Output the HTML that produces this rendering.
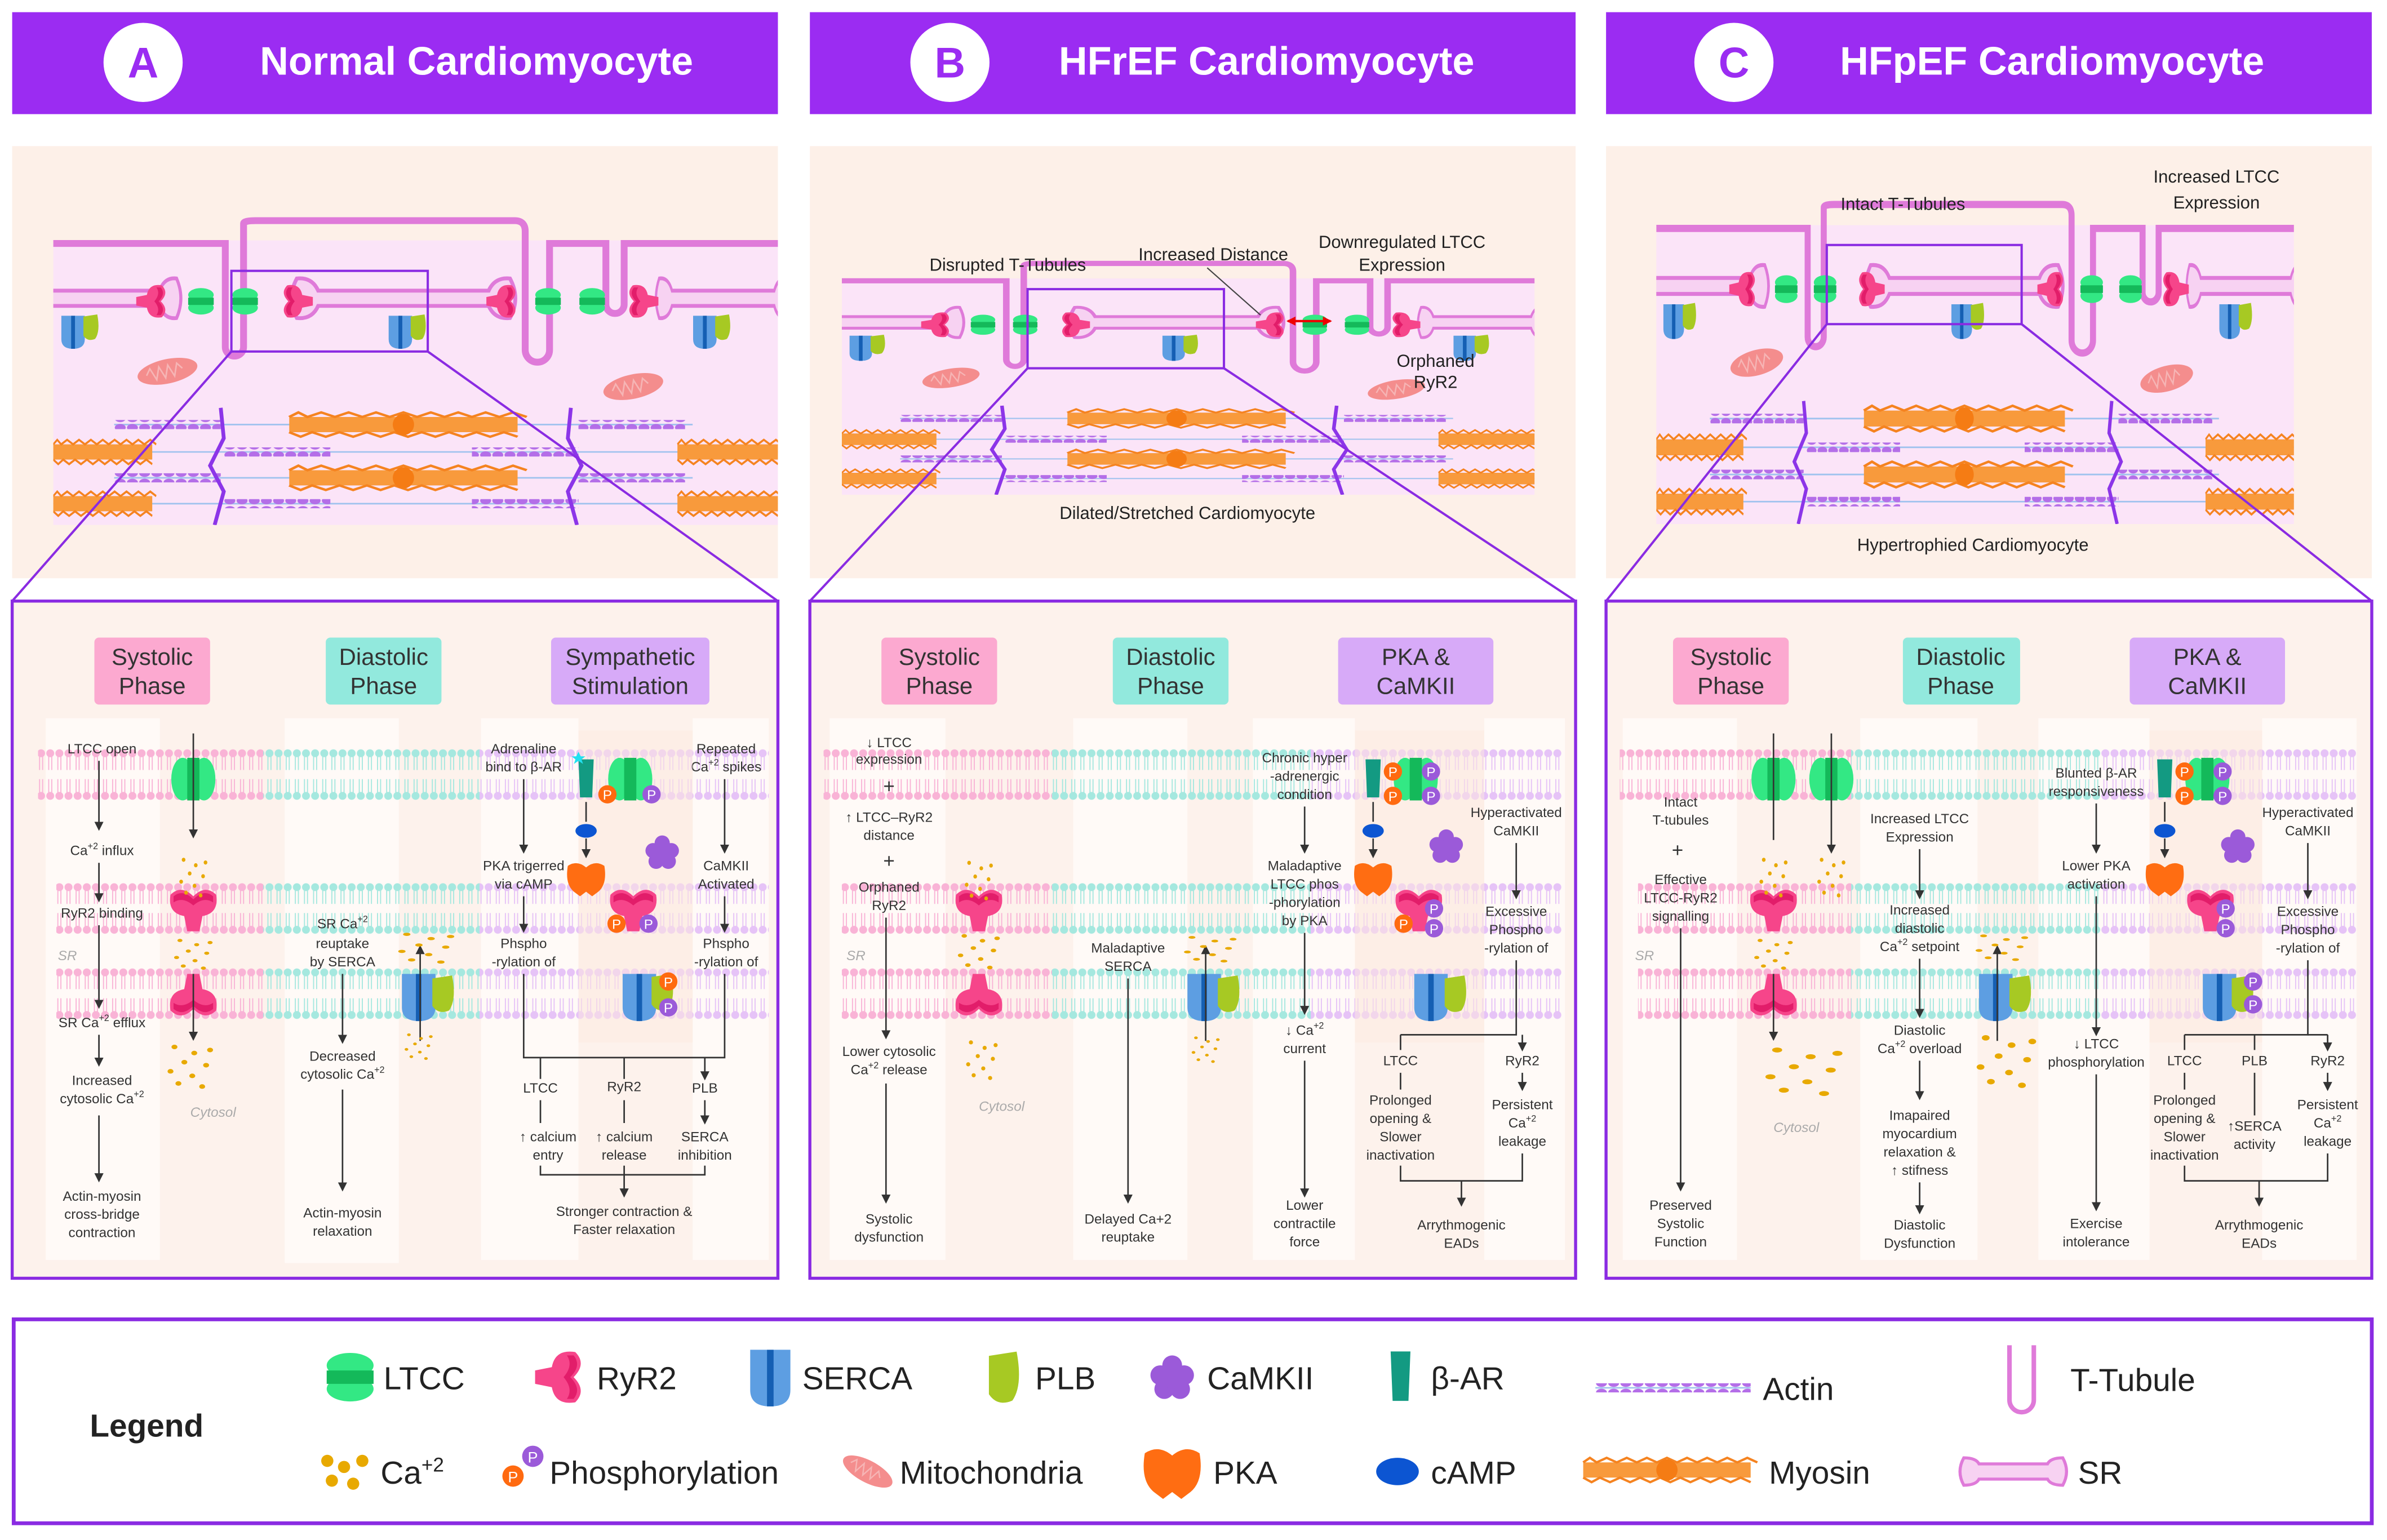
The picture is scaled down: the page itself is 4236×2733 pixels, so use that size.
<!DOCTYPE html>
<html><head><meta charset="utf-8"><style>
html,body{margin:0;padding:0;background:#fff}
svg{display:block}
text{font-family:"Liberation Sans",sans-serif;fill:#333}
.t{font-size:9px;text-anchor:middle}
.h{font-size:26px;font-weight:bold;fill:#fff;text-anchor:middle}
.lb{font-size:15.5px;text-anchor:middle;fill:#333}
.an{font-size:11.5px;text-anchor:middle;fill:#222}
.lg{font-size:21px;fill:#222}
.gi{font-size:9px;font-style:italic;fill:#aaa}
.ar{stroke:#333;stroke-width:1;fill:none;marker-end:url(#ah)}
.ln{stroke:#333;stroke-width:1;fill:none}
</style></head><body>
<svg width="4236" height="2733" viewBox="0 0 1568 1012" preserveAspectRatio="none" xmlns="http://www.w3.org/2000/svg">
<defs>
<clipPath id="cc"><rect x="0" y="-25" width="476" height="212"/></clipPath>
<marker id="ah" markerWidth="6" markerHeight="6" refX="5" refY="3" orient="auto" markerUnits="userSpaceOnUse"><path d="M0,0 L6,3 L0,6Z" fill="#333"/></marker>
<marker id="rh" markerWidth="6" markerHeight="6" refX="5" refY="3" orient="auto-start-reverse" markerUnits="userSpaceOnUse"><path d="M0,0 L6,3 L0,6Z" fill="#e00"/></marker>
<pattern id="mpk" width="6" height="34" patternUnits="userSpaceOnUse"><circle cx="3" cy="3" r="2.6" fill="#f9b3d6"/><path d="M2,5V14M4,5V14M2,20V29M4,20V29" stroke="#f9b3d6" stroke-width=".7"/><circle cx="3" cy="31" r="2.6" fill="#f9b3d6"/></pattern>
<pattern id="mtl" width="6" height="34" patternUnits="userSpaceOnUse"><circle cx="3" cy="3" r="2.6" fill="#a5e8df"/><path d="M2,5V14M4,5V14M2,20V29M4,20V29" stroke="#a5e8df" stroke-width=".7"/><circle cx="3" cy="31" r="2.6" fill="#a5e8df"/></pattern>
<pattern id="mli" width="6" height="34" patternUnits="userSpaceOnUse"><circle cx="3" cy="3" r="2.6" fill="#e6c3f7"/><path d="M2,5V14M4,5V14M2,20V29M4,20V29" stroke="#e6c3f7" stroke-width=".7"/><circle cx="3" cy="31" r="2.6" fill="#e6c3f7"/></pattern>
<pattern id="act" width="8" height="6" patternUnits="userSpaceOnUse"><ellipse cx="4" cy="3" rx="3.6" ry="2.4" fill="#b46ee8"/></pattern>
<g id="ltcc"><ellipse cx="-7" cy="0" rx="7.5" ry="14" fill="#33e884"/><ellipse cx="7" cy="0" rx="7.5" ry="14" fill="#33e884"/><rect x="-4" y="-14" width="8" height="28" fill="#14b95a"/></g>
<g id="ryr"><path d="M-15,-9 Q-8,-16 0,-8 Q8,-16 15,-9 Q17,3 6,5 L4,15 L-4,15 L-6,5 Q-17,3 -15,-9Z" fill="#f6458a"/><path d="M-13,-8 Q-7,-13 0,-6 Q7,-13 13,-8 L13,-4 Q7,-8 0,-2 Q-7,-8 -13,-4Z" fill="#e21d6a"/></g>
<g id="serca"><path d="M-11,-15 H11 V7 Q11,16 0,16 Q-11,16 -11,7Z" fill="#5d9ee2"/><rect x="-1.8" y="-15" width="3.6" height="31" fill="#155fb3"/></g>
<g id="plb"><path d="M-6,-10 L7,-12 Q10,4 5,11 Q-2,14 -6,8Z" fill="#a7c923"/></g>
<g id="cam" fill="#9b5ad9"><circle cx="0" cy="-6" r="5"/><circle cx="6" cy="-1" r="5"/><circle cx="4" cy="6" r="5"/><circle cx="-4" cy="6" r="5"/><circle cx="-6" cy="-1" r="5"/><circle cx="0" cy="1" r="5"/></g>
<g id="pka"><path d="M-12,-8 Q-6,-12 0,-7 Q6,-12 12,-8 Q14,4 8,9 L4,12 L0,9 L-4,12 L-8,9 Q-14,4 -12,-8Z" fill="#ff6d12"/></g>
<g id="bar"><path d="M-5,-13 H5 L4,12 H-4Z" fill="#139a82"/></g>
<g id="camp"><ellipse cx="0" cy="0" rx="7" ry="4.5" fill="#0c55d2"/></g>
<g id="mito"><ellipse cx="0" cy="0" rx="20" ry="8" fill="#f48d8d" transform="rotate(-12)"/><path d="M-14,0 l3,-4 3,8 3,-8 3,8 3,-8 3,8 3,-8 3,4" stroke="#f6b5b5" stroke-width="1" fill="none" transform="rotate(-12)"/></g>
<g id="dots" fill="#e8a900"><circle cx="-8" cy="0" r="1.5"/><circle cx="2" cy="4" r="1.5"/><circle cx="-3" cy="10" r="1.5"/><circle cx="8" cy="12" r="1.5"/><circle cx="-10" cy="16" r="1.5"/><circle cx="1" cy="19" r="1.5"/><circle cx="10" cy="2" r="1.5"/><circle cx="-6" cy="24" r="1.5"/><circle cx="6" cy="26" r="1.5"/></g>
<g id="myo"><rect x="0" y="-5" width="100" height="10" fill="#f89a3c"/><path d="M0,-5 l4,-3 4,3 6,-3 6,3 6,-3 6,3 6,-3 6,3 6,-3 6,3 6,-3 6,3 6,-3 6,3 6,-3 6,3 6,-3 6,3 M0,5 l5,3 5,-3 6,3 6,-3 6,3 6,-3 6,3 6,-3 6,3 6,-3 6,3 6,-3 6,3 6,-3 6,3 6,-3 6,3" stroke="#f58320" stroke-width="1.5" fill="none"/></g>
<g id="sr"><path d="M-70,-13 Q-60,-14 -56,-5 H56 Q60,-14 70,-13 Q77,0 70,13 Q60,14 56,5 H-56 Q-60,14 -70,13 Q-77,0 -70,-13Z" fill="#f7d2f2" stroke="#df7ad9" stroke-width="2.5"/></g>
<g id="cell"><g clip-path="url(#cc)">
<rect x="0" y="0" width="476" height="187" fill="#fbe4f8"/>
<path d="M0,2 H113 V70 a6,6 0 0 0 12,0 V-11 Q125,-13 133,-13 H303 Q310,-13 310,-6 V72 a8,8 0 0 0 16,0 V2 H363 V42 a6,6 0 0 0 12,0 V2 H476" stroke="#df7ad9" stroke-width="4.5" fill="none"/>
<use href="#sr" transform="translate(25,38) scale(.8,1)"/>
<use href="#sr" transform="translate(230,38)"/>
<use href="#sr" transform="translate(440,38) scale(.6,1)"/>
<use href="#ryr" transform="translate(65,40) rotate(90) scale(.7)"/>
<use href="#ryr" transform="translate(160,40) rotate(-90) scale(.7)"/>
<use href="#ryr" transform="translate(295,40) rotate(90) scale(.7)"/>
<use href="#ryr" transform="translate(387,40) rotate(-90) scale(.7)"/>
<use href="#ltcc" transform="translate(97,40) rotate(90) scale(.6)"/>
<use href="#ltcc" transform="translate(126,40) rotate(90) scale(.6)"/>
<use href="#ltcc" transform="translate(325,40) rotate(90) scale(.6)"/>
<use href="#ltcc" transform="translate(354,40) rotate(90) scale(.6)"/>
<use href="#serca" transform="translate(13,60) scale(.7)"/><use href="#plb" transform="translate(24,57) scale(.7)"/>
<use href="#serca" transform="translate(228,60) scale(.7)"/><use href="#plb" transform="translate(239,57) scale(.7)"/>
<use href="#serca" transform="translate(428,60) scale(.7)"/><use href="#plb" transform="translate(439,57) scale(.7)"/>
<use href="#mito" transform="translate(75,86)"/><use href="#mito" transform="translate(381,96)"/>
<g stroke="#9fc2ee" stroke-width="1"><path d="M40,121H420M0,139H476M40,156H420M0,173H476"/></g>
<rect x="40" y="118" width="70" height="6" fill="url(#act)"/><rect x="345" y="118" width="70" height="6" fill="url(#act)"/>
<rect x="112" y="136" width="70" height="6" fill="url(#act)"/><rect x="275" y="136" width="70" height="6" fill="url(#act)"/>
<rect x="40" y="153" width="70" height="6" fill="url(#act)"/><rect x="345" y="153" width="70" height="6" fill="url(#act)"/>
<rect x="112" y="170" width="70" height="6" fill="url(#act)"/><rect x="275" y="170" width="70" height="6" fill="url(#act)"/>
<use href="#myo" transform="translate(155,121) scale(1.5,1)"/><circle cx="230" cy="121" r="7" fill="#f57c14"/>
<use href="#myo" transform="translate(155,156) scale(1.5,1)"/><circle cx="230" cy="156" r="7" fill="#f57c14"/>
<use href="#myo" transform="translate(0,139) scale(.65,1)"/><use href="#myo" transform="translate(410,139) scale(.66,1)"/>
<use href="#myo" transform="translate(0,173) scale(.65,1)"/><use href="#myo" transform="translate(410,173) scale(.66,1)"/>
<path d="M110,110 L112,130 L103,148 L112,165 L106,187 M340,110 L338,130 L347,148 L338,165 L344,187" stroke="#8c35e8" stroke-width="2.5" fill="none"/>
</g></g>
</defs>

<!-- headers -->
<rect x="8" y="8" width="503" height="67" fill="#9b2cf2"/>
<rect x="532" y="8" width="503" height="67" fill="#9b2cf2"/>
<rect x="1055" y="8" width="503" height="67" fill="#9b2cf2"/>
<circle cx="94" cy="41" r="26" fill="#fff"/><text x="94" y="51" style="font-size:28px;font-weight:bold;fill:#9b2cf2;text-anchor:middle">A</text>
<circle cx="624" cy="41" r="26" fill="#fff"/><text x="624" y="51" style="font-size:28px;font-weight:bold;fill:#9b2cf2;text-anchor:middle">B</text>
<circle cx="1139" cy="41" r="26" fill="#fff"/><text x="1139" y="51" style="font-size:28px;font-weight:bold;fill:#9b2cf2;text-anchor:middle">C</text>
<text class="h" x="313" y="49">Normal Cardiomyocyte</text>
<text class="h" x="832" y="49">HFrEF Cardiomyocyte</text>
<text class="h" x="1348" y="49">HFpEF Cardiomyocyte</text>

<!-- top panels -->
<rect x="8" y="96" width="503" height="284" fill="#fdf0e8"/>
<rect x="532" y="96" width="503" height="284" fill="#fdf0e8"/>
<rect x="1055" y="96" width="503" height="284" fill="#fdf0e8"/>
<use href="#cell" transform="translate(35,158)"/>
<use href="#cell" transform="translate(553,183) scale(.956,.76)"/>
<use href="#cell" transform="translate(1088,148) scale(.88,1.05)"/>

<rect x="152" y="178" width="129" height="53" fill="none" stroke="#8a2be2" stroke-width="1.5"/>
<rect x="675" y="190" width="129" height="52" fill="none" stroke="#8a2be2" stroke-width="1.5"/>
<rect x="1200" y="161" width="128" height="52" fill="none" stroke="#8a2be2" stroke-width="1.5"/>
<path d="M152,231L8,395M281,231L511,395M675,242L532,395M804,242L1035,395M1200,213L1055,395M1328,213L1558,395" stroke="#8a2be2" stroke-width="1.5"/>

<text class="an" x="662" y="178">Disrupted T-Tubules</text>
<text class="an" x="797" y="171">Increased Distance</text>
<path d="M793,176L828,207" stroke="#444" stroke-width=".8"/>
<path d="M846,211H874" stroke="#e00" stroke-width="1.5" marker-end="url(#rh)" marker-start="url(#rh)"/>
<text class="an" x="921" y="163">Downregulated LTCC</text>
<text class="an" x="921" y="178">Expression</text>
<text class="an" x="943" y="241">Orphaned</text>
<text class="an" x="943" y="255">RyR2</text>
<text class="an" x="780" y="341">Dilated/Stretched Cardiomyocyte</text>
<text class="an" x="1250" y="138">Intact T-Tubules</text>
<text class="an" x="1456" y="120">Increased LTCC</text>
<text class="an" x="1456" y="137">Expression</text>
<text class="an" x="1296" y="362">Hypertrophied Cardiomyocyte</text>

<!-- bottom boxes -->
<rect x="8" y="395" width="503" height="445" fill="#fdf2ec" stroke="#8a2be2" stroke-width="2"/>
<rect x="532" y="395" width="503" height="445" fill="#fdf2ec" stroke="#8a2be2" stroke-width="2"/>
<rect x="1055" y="395" width="503" height="445" fill="#fdf2ec" stroke="#8a2be2" stroke-width="2"/>
<g fill="#fffaf7">
<rect x="30" y="472" width="75" height="356"/><rect x="187" y="472" width="75" height="358"/><rect x="316" y="472" width="64" height="356"/><rect x="455" y="472" width="50" height="356"/>
<rect x="545" y="472" width="76" height="356"/><rect x="705" y="472" width="75" height="356"/><rect x="823" y="472" width="67" height="356"/><rect x="975" y="472" width="53" height="356"/>
<rect x="1066" y="472" width="75" height="356"/><rect x="1222" y="472" width="77" height="356"/><rect x="1339" y="472" width="73" height="356"/><rect x="1486" y="472" width="62" height="356"/>
</g>
<!-- membranes -->
<g transform="translate(0,492)"><rect x="25" width="148" height="34" fill="url(#mpk)"/><rect x="173" width="142" height="34" fill="url(#mtl)"/><rect x="315" width="190" height="34" fill="url(#mli)"/>
<rect x="541" width="150" height="34" fill="url(#mpk)"/><rect x="691" width="170" height="34" fill="url(#mtl)"/><rect x="861" width="165" height="34" fill="url(#mli)"/>
<rect x="1064" width="152" height="34" fill="url(#mpk)"/><rect x="1216" width="164" height="34" fill="url(#mtl)"/><rect x="1380" width="168" height="34" fill="url(#mli)"/></g>
<g transform="translate(0,580)"><rect x="37" width="136" height="34" fill="url(#mpk)"/><rect x="173" width="142" height="34" fill="url(#mtl)"/><rect x="315" width="190" height="34" fill="url(#mli)"/>
<rect x="553" width="138" height="34" fill="url(#mpk)"/><rect x="691" width="170" height="34" fill="url(#mtl)"/><rect x="861" width="165" height="34" fill="url(#mli)"/>
<rect x="1076" width="140" height="34" fill="url(#mpk)"/><rect x="1216" width="164" height="34" fill="url(#mtl)"/><rect x="1380" width="168" height="34" fill="url(#mli)"/></g>
<g transform="translate(0,636)"><rect x="37" width="136" height="34" fill="url(#mpk)"/><rect x="173" width="142" height="34" fill="url(#mtl)"/><rect x="315" width="190" height="34" fill="url(#mli)"/>
<rect x="553" width="138" height="34" fill="url(#mpk)"/><rect x="691" width="170" height="34" fill="url(#mtl)"/><rect x="861" width="165" height="34" fill="url(#mli)"/>
<rect x="1076" width="140" height="34" fill="url(#mpk)"/><rect x="1216" width="164" height="34" fill="url(#mtl)"/><rect x="1380" width="168" height="34" fill="url(#mli)"/></g>

<!-- phase labels -->
<rect x="62" y="419" width="76" height="44" rx="3" fill="#fca9d0"/><text class="lb" x="100" y="437">Systolic</text><text class="lb" x="100" y="456">Phase</text>
<rect x="214" y="419" width="76" height="44" rx="3" fill="#92e9dd"/><text class="lb" x="252" y="437">Diastolic</text><text class="lb" x="252" y="456">Phase</text>
<rect x="362" y="419" width="104" height="44" rx="3" fill="#d7aaf8"/><text class="lb" x="414" y="437">Sympathetic</text><text class="lb" x="414" y="456">Stimulation</text>
<rect x="579" y="419" width="76" height="44" rx="3" fill="#fca9d0"/><text class="lb" x="617" y="437">Systolic</text><text class="lb" x="617" y="456">Phase</text>
<rect x="731" y="419" width="76" height="44" rx="3" fill="#92e9dd"/><text class="lb" x="769" y="437">Diastolic</text><text class="lb" x="769" y="456">Phase</text>
<rect x="879" y="419" width="102" height="44" rx="3" fill="#d7aaf8"/><text class="lb" x="930" y="437">PKA &amp;</text><text class="lb" x="930" y="456">CaMKII</text>
<rect x="1099" y="419" width="76" height="44" rx="3" fill="#fca9d0"/><text class="lb" x="1137" y="437">Systolic</text><text class="lb" x="1137" y="456">Phase</text>
<rect x="1250" y="419" width="77" height="44" rx="3" fill="#92e9dd"/><text class="lb" x="1288" y="437">Diastolic</text><text class="lb" x="1288" y="456">Phase</text>
<rect x="1399" y="419" width="102" height="44" rx="3" fill="#d7aaf8"/><text class="lb" x="1450" y="437">PKA &amp;</text><text class="lb" x="1450" y="456">CaMKII</text>

<!-- PANEL A bottom -->
<text class="t" x="67" y="495">LTCC open</text>
<path class="ar" d="M65,500V545"/>
<text class="t" x="67" y="562">Ca<tspan dy="-4" font-size="6">+2</tspan><tspan dy="4"> influx</tspan></text>
<path class="ar" d="M65,567V592"/>
<text class="t" x="67" y="603">RyR2 binding</text>
<path class="ar" d="M65,608V662"/>
<text class="gi" x="38" y="631">SR</text>
<text class="t" x="67" y="675">SR Ca<tspan dy="-4" font-size="6">+2</tspan><tspan dy="4"> efflux</tspan></text>
<path class="ar" d="M65,680V700"/>
<text class="t" x="67" y="713">Increased</text><text class="t" x="67" y="725">cytosolic Ca<tspan dy="-4" font-size="6">+2</tspan></text>
<path class="ar" d="M65,733V776"/>
<text class="t" x="67" y="789">Actin-myosin</text><text class="t" x="67" y="801">cross-bridge</text><text class="t" x="67" y="813">contraction</text>
<use href="#ltcc" transform="translate(127,512)"/>
<use href="#ryr" transform="translate(127,597)"/>
<use href="#ryr" transform="translate(127,655) rotate(180)"/>
<path class="ar" d="M127,482V550"/><path class="ar" d="M127,640V683"/>
<use href="#dots" transform="translate(127,565) scale(.8,.9)"/><use href="#dots" transform="translate(127,618) scale(1.1,.7)"/><use href="#dots" transform="translate(125,688) scale(1.3,1)"/>
<text class="gi" x="125" y="734">Cytosol</text>

<text class="t" x="225" y="610">SR Ca<tspan dy="-4" font-size="6">+2</tspan></text><text class="t" x="225" y="623">reuptake</text><text class="t" x="225" y="635">by SERCA</text>
<path class="ar" d="M225,640V685"/>
<text class="t" x="225" y="697">Decreased</text><text class="t" x="225" y="709">cytosolic Ca<tspan dy="-4" font-size="6">+2</tspan></text>
<path class="ar" d="M225,716V782"/>
<text class="t" x="225" y="800">Actin-myosin</text><text class="t" x="225" y="812">relaxation</text>
<use href="#serca" transform="translate(275,655)"/><use href="#plb" transform="translate(290,653)"/>
<path class="ar" d="M276,684V622"/>
<use href="#dots" transform="translate(280,614) scale(1.6,.7)"/><use href="#dots" transform="translate(275,680) scale(.8,.6)"/>

<text class="t" x="344" y="495">Adrenaline</text><text class="t" x="344" y="507">bind to β-AR</text>
<path class="ar" d="M344,512V560"/>
<text class="t" x="344" y="572">PKA trigerred</text><text class="t" x="344" y="584">via cAMP</text>
<path class="ar" d="M344,589V612"/>
<text class="t" x="344" y="623">Phspho</text><text class="t" x="344" y="635">-rylation of</text>
<text class="t" x="477" y="495">Repeated</text><text class="t" x="477" y="507">Ca<tspan dy="-4" font-size="6">+2</tspan><tspan dy="4"> spikes</tspan></text>
<path class="ar" d="M476,512V560"/>
<text class="t" x="477" y="572">CaMKII</text><text class="t" x="477" y="584">Activated</text>
<path class="ar" d="M476,589V612"/>
<text class="t" x="477" y="623">Phspho</text><text class="t" x="477" y="635">-rylation of</text>
<path class="ln" d="M344,640V695H476V640"/>
<path class="ar" d="M355,695V709M410,695V709M463,695V709"/>
<text class="t" x="355" y="718">LTCC</text><text class="t" x="410" y="717">RyR2</text><text class="t" x="463" y="718">PLB</text>
<path class="ar" d="M355,723V738M410,723V738M463,723V738"/>
<text class="t" x="360" y="750">↑ calcium</text><text class="t" x="360" y="762">entry</text>
<text class="t" x="410" y="750">↑ calcium</text><text class="t" x="410" y="762">release</text>
<text class="t" x="463" y="750">SERCA</text><text class="t" x="463" y="762">inhibition</text>
<path class="ln" d="M355,766V772H463V766"/><path class="ar" d="M410,766V786"/>
<text class="t" x="410" y="799">Stronger contraction &amp;</text><text class="t" x="410" y="811">Faster relaxation</text>
<rect x="380" y="480" width="75" height="205" fill="#fdeadf" opacity=".5"/>
<use href="#bar" transform="translate(385,512)"/><path d="M380,494l1.5,3 3,0 -2.5,2 1,3 -3,-2 -3,2 1,-3 -2.5,-2 3,0z" fill="#22e0f0"/>
<use href="#ltcc" transform="translate(414,512)"/>
<circle cx="399" cy="522" r="6" fill="#ff6a10"/><text x="399" y="525.5" style="font-size:9px;fill:#fff;text-anchor:middle">P</text>
<circle cx="428" cy="522" r="6" fill="#9b5ad9"/><text x="428" y="525.5" style="font-size:9px;fill:#fff;text-anchor:middle">P</text>
<path class="ar" d="M385,527V540M385,551V563"/>
<use href="#camp" transform="translate(385,546)"/>
<use href="#pka" transform="translate(385,577)"/>
<use href="#cam" transform="translate(435,560)"/>
<use href="#ryr" transform="translate(416,597)"/>
<circle cx="405" cy="607" r="6" fill="#ff6a10"/><text x="405" y="610.5" style="font-size:9px;fill:#fff;text-anchor:middle">P</text>
<circle cx="426" cy="607" r="6" fill="#9b5ad9"/><text x="426" y="610.5" style="font-size:9px;fill:#fff;text-anchor:middle">P</text>
<use href="#serca" transform="translate(420,655)"/><use href="#plb" transform="translate(434,652)"/>
<circle cx="439" cy="645" r="6" fill="#ff6a10"/><text x="439" y="648.5" style="font-size:9px;fill:#fff;text-anchor:middle">P</text>
<circle cx="439" cy="662" r="6" fill="#9b5ad9"/><text x="439" y="665.5" style="font-size:9px;fill:#fff;text-anchor:middle">P</text>

<!-- PANEL B bottom -->
<text class="t" x="584" y="491">↓ LTCC</text><text class="t" x="584" y="502">expression</text>
<text class="t" x="584" y="521" style="font-size:13px">+</text>
<text class="t" x="584" y="540">↑ LTCC–RyR2</text><text class="t" x="584" y="552">distance</text>
<text class="t" x="584" y="570" style="font-size:13px">+</text>
<text class="t" x="584" y="586">Orphaned</text><text class="t" x="584" y="598">RyR2</text>
<path class="ar" d="M582,603V682"/>
<text class="gi" x="556" y="631">SR</text>
<text class="t" x="584" y="694">Lower cytosolic</text><text class="t" x="584" y="706">Ca<tspan dy="-4" font-size="6">+2</tspan><tspan dy="4"> release</tspan></text>
<path class="ar" d="M582,712V790"/>
<text class="t" x="584" y="804">Systolic</text><text class="t" x="584" y="816">dysfunction</text>
<use href="#ryr" transform="translate(643,597)"/>
<use href="#ryr" transform="translate(643,655) rotate(180)"/>
<use href="#dots" transform="translate(643,567) scale(.8,.9)"/><use href="#dots" transform="translate(643,615) scale(1.2,.8)"/><use href="#dots" transform="translate(645,685) scale(.9,.9)"/>
<text class="gi" x="643" y="730">Cytosol</text>
<text class="t" x="741" y="626">Maladaptive</text><text class="t" x="741" y="638">SERCA</text>
<path class="ar" d="M741,643V790"/>
<text class="t" x="741" y="804">Delayed Ca+2</text><text class="t" x="741" y="816">reuptake</text>
<use href="#serca" transform="translate(791,655)"/><use href="#plb" transform="translate(806,653)"/>
<path class="ar" d="M792,684V622"/>
<use href="#dots" transform="translate(795,616) scale(1.5,.6)"/><use href="#dots" transform="translate(792,682) scale(.8,.6)"/>

<text class="t" x="857" y="501">Chronic hyper</text><text class="t" x="857" y="513">-adrenergic</text><text class="t" x="857" y="525">condition</text>
<path class="ar" d="M857,530V560"/>
<text class="t" x="857" y="572">Maladaptive</text><text class="t" x="857" y="584">LTCC phos</text><text class="t" x="857" y="596">-phorylation</text><text class="t" x="857" y="608">by PKA</text>
<path class="ar" d="M857,613V666"/>
<text class="t" x="857" y="680">↓ Ca<tspan dy="-4" font-size="6">+2</tspan></text><text class="t" x="857" y="692">current</text>
<path class="ar" d="M857,697V786"/>
<text class="t" x="857" y="795">Lower</text><text class="t" x="857" y="807">contractile</text><text class="t" x="857" y="819">force</text>
<rect x="890" y="480" width="85" height="205" fill="#fdeadf" opacity=".5"/>
<use href="#bar" transform="translate(902,512)"/>
<use href="#ltcc" transform="translate(930,512)"/>
<circle cx="915" cy="507" r="6" fill="#ff6a10"/><text x="915" y="510.5" style="font-size:9px;fill:#fff;text-anchor:middle">P</text>
<circle cx="915" cy="523" r="6" fill="#ff6a10"/><text x="915" y="526.5" style="font-size:9px;fill:#fff;text-anchor:middle">P</text>
<circle cx="940" cy="507" r="6" fill="#9b5ad9"/><text x="940" y="510.5" style="font-size:9px;fill:#fff;text-anchor:middle">P</text>
<circle cx="940" cy="523" r="6" fill="#9b5ad9"/><text x="940" y="526.5" style="font-size:9px;fill:#fff;text-anchor:middle">P</text>
<path class="ar" d="M902,527V540M902,551V563"/>
<use href="#camp" transform="translate(902,546)"/>
<use href="#pka" transform="translate(902,577)"/>
<use href="#cam" transform="translate(950,556)"/>
<use href="#ryr" transform="translate(932,597)"/>
<circle cx="922" cy="607" r="6" fill="#ff6a10"/><text x="922" y="610.5" style="font-size:9px;fill:#fff;text-anchor:middle">P</text>
<circle cx="942" cy="597" r="6" fill="#9b5ad9"/><text x="942" y="600.5" style="font-size:9px;fill:#fff;text-anchor:middle">P</text>
<circle cx="942" cy="610" r="6" fill="#9b5ad9"/><text x="942" y="613.5" style="font-size:9px;fill:#fff;text-anchor:middle">P</text>
<use href="#serca" transform="translate(940,655)"/><use href="#plb" transform="translate(955,653)"/>
<text class="t" x="996" y="537">Hyperactivated</text><text class="t" x="996" y="549">CaMKII</text>
<path class="ar" d="M996,554V590"/>
<text class="t" x="996" y="602">Excessive</text><text class="t" x="996" y="614">Phospho</text><text class="t" x="996" y="626">-rylation of</text>
<path class="ln" d="M996,631V680H920"/>
<path class="ar" d="M920,680V690M1000,680V690"/>
<text class="t" x="920" y="700">LTCC</text><text class="t" x="1000" y="700">RyR2</text>
<path class="ar" d="M920,705V716M1000,705V716"/>
<text class="t" x="920" y="726">Prolonged</text><text class="t" x="920" y="738">opening &amp;</text><text class="t" x="920" y="750">Slower</text><text class="t" x="920" y="762">inactivation</text>
<text class="t" x="1000" y="729">Persistent</text><text class="t" x="1000" y="741">Ca<tspan dy="-4" font-size="6">+2</tspan></text><text class="t" x="1000" y="753">leakage</text>
<path class="ln" d="M920,766V776H1000V758"/><path class="ar" d="M960,776V792"/>
<text class="t" x="960" y="808">Arrythmogenic</text><text class="t" x="960" y="820">EADs</text>

<!-- PANEL C bottom -->
<text class="t" x="1104" y="530">Intact</text><text class="t" x="1104" y="542">T-tubules</text>
<text class="t" x="1102" y="563" style="font-size:13px">+</text>
<text class="t" x="1104" y="581">Effective</text><text class="t" x="1104" y="593">LTCC-RyR2</text><text class="t" x="1104" y="605">signalling</text>
<path class="ar" d="M1104,610V782"/>
<text class="gi" x="1074" y="631">SR</text>
<text class="t" x="1104" y="795">Preserved</text><text class="t" x="1104" y="807">Systolic</text><text class="t" x="1104" y="819">Function</text>
<use href="#ltcc" transform="translate(1165,512)"/><use href="#ltcc" transform="translate(1203,512)"/>
<path class="ar" d="M1165,482V552M1203,482V560"/>
<use href="#ryr" transform="translate(1165,597)"/>
<use href="#ryr" transform="translate(1165,655) rotate(180)"/>
<path class="ar" d="M1165,640V683"/>
<use href="#dots" transform="translate(1165,565) scale(.8,.9)"/><use href="#dots" transform="translate(1203,565) scale(.8,.9)"/><use href="#dots" transform="translate(1165,618) scale(1.1,.7)"/><use href="#dots" transform="translate(1185,690) scale(2.2,1.1)"/>
<text class="gi" x="1165" y="744">Cytosol</text>
<text class="t" x="1261" y="541">Increased LTCC</text><text class="t" x="1261" y="553">Expression</text>
<path class="ar" d="M1261,558V590"/>
<text class="t" x="1261" y="601">Increased</text><text class="t" x="1261" y="613">diastolic</text><text class="t" x="1261" y="625">Ca<tspan dy="-4" font-size="6">+2</tspan><tspan dy="4"> setpoint</tspan></text>
<path class="ar" d="M1261,630V668"/>
<text class="t" x="1261" y="680">Diastolic</text><text class="t" x="1261" y="692">Ca<tspan dy="-4" font-size="6">+2</tspan><tspan dy="4"> overload</tspan></text>
<path class="ar" d="M1261,697V722"/>
<text class="t" x="1261" y="736">Imapaired</text><text class="t" x="1261" y="748">myocardium</text><text class="t" x="1261" y="760">relaxation &amp;</text><text class="t" x="1261" y="772">↑ stifness</text>
<path class="ar" d="M1261,777V797"/>
<text class="t" x="1261" y="808">Diastolic</text><text class="t" x="1261" y="820">Dysfunction</text>
<use href="#serca" transform="translate(1311,655)"/><use href="#plb" transform="translate(1326,653)"/>
<path class="ar" d="M1312,684V622"/>
<use href="#dots" transform="translate(1315,615) scale(1.5,.6)"/><use href="#dots" transform="translate(1318,682) scale(1.7,1.2)"/>

<text class="t" x="1377" y="511">Blunted β-AR</text><text class="t" x="1377" y="523">responsiveness</text>
<path class="ar" d="M1377,528V560"/>
<text class="t" x="1377" y="572">Lower PKA</text><text class="t" x="1377" y="584">activation</text>
<path class="ar" d="M1377,589V680"/>
<text class="t" x="1377" y="689">↓ LTCC</text><text class="t" x="1377" y="701">phosphorylation</text>
<path class="ar" d="M1377,706V795"/>
<text class="t" x="1377" y="807">Exercise</text><text class="t" x="1377" y="819">intolerance</text>
<rect x="1412" y="480" width="74" height="205" fill="#fdeadf" opacity=".5"/>
<use href="#bar" transform="translate(1422,512)"/>
<use href="#ltcc" transform="translate(1450,512)"/>
<circle cx="1435" cy="507" r="6" fill="#ff6a10"/><text x="1435" y="510.5" style="font-size:9px;fill:#fff;text-anchor:middle">P</text>
<circle cx="1435" cy="523" r="6" fill="#ff6a10"/><text x="1435" y="526.5" style="font-size:9px;fill:#fff;text-anchor:middle">P</text>
<circle cx="1460" cy="507" r="6" fill="#9b5ad9"/><text x="1460" y="510.5" style="font-size:9px;fill:#fff;text-anchor:middle">P</text>
<circle cx="1460" cy="523" r="6" fill="#9b5ad9"/><text x="1460" y="526.5" style="font-size:9px;fill:#fff;text-anchor:middle">P</text>
<path class="ar" d="M1422,527V540M1422,551V563"/>
<use href="#camp" transform="translate(1422,546)"/>
<use href="#pka" transform="translate(1422,577)"/>
<use href="#cam" transform="translate(1470,556)"/>
<use href="#ryr" transform="translate(1452,597)"/>
<circle cx="1462" cy="597" r="6" fill="#9b5ad9"/><text x="1462" y="600.5" style="font-size:9px;fill:#fff;text-anchor:middle">P</text>
<circle cx="1462" cy="610" r="6" fill="#9b5ad9"/><text x="1462" y="613.5" style="font-size:9px;fill:#fff;text-anchor:middle">P</text>
<use href="#serca" transform="translate(1458,655)"/><use href="#plb" transform="translate(1472,653)"/>
<circle cx="1480" cy="645" r="6" fill="#9b5ad9"/><text x="1480" y="648.5" style="font-size:9px;fill:#fff;text-anchor:middle">P</text>
<circle cx="1480" cy="660" r="6" fill="#9b5ad9"/><text x="1480" y="663.5" style="font-size:9px;fill:#fff;text-anchor:middle">P</text>
<text class="t" x="1516" y="537">Hyperactivated</text><text class="t" x="1516" y="549">CaMKII</text>
<path class="ar" d="M1516,554V590"/>
<text class="t" x="1516" y="602">Excessive</text><text class="t" x="1516" y="614">Phospho</text><text class="t" x="1516" y="626">-rylation of</text>
<path class="ln" d="M1516,631V680H1435"/><path class="ln" d="M1516,680H1529"/>
<path class="ar" d="M1435,680V690M1481,680V690M1529,680V690"/>
<text class="t" x="1435" y="700">LTCC</text><text class="t" x="1481" y="700">PLB</text><text class="t" x="1529" y="700">RyR2</text>
<path class="ar" d="M1435,705V716M1481,705V733M1529,705V716"/>
<text class="t" x="1435" y="726">Prolonged</text><text class="t" x="1435" y="738">opening &amp;</text><text class="t" x="1435" y="750">Slower</text><text class="t" x="1435" y="762">inactivation</text>
<text class="t" x="1481" y="743">↑SERCA</text><text class="t" x="1481" y="755">activity</text>
<text class="t" x="1529" y="729">Persistent</text><text class="t" x="1529" y="741">Ca<tspan dy="-4" font-size="6">+2</tspan></text><text class="t" x="1529" y="753">leakage</text>
<path class="ln" d="M1435,766V776H1529V758"/><path class="ar" d="M1484,776V792"/>
<text class="t" x="1484" y="808">Arrythmogenic</text><text class="t" x="1484" y="820">EADs</text>

<!-- legend -->
<rect x="9" y="867" width="1549" height="134" fill="#fff" stroke="#8a2be2" stroke-width="2.5"/>
<text x="59" y="944" style="font-size:21px;font-weight:bold;fill:#222">Legend</text>
<use href="#ltcc" transform="translate(230,905) rotate(90) scale(1.1)"/><text class="lg" x="252" y="913">LTCC</text>
<use href="#ryr" transform="translate(368,905) rotate(90) scale(1.1)"/><text class="lg" x="392" y="913">RyR2</text>
<use href="#serca" transform="translate(506,905) scale(1.2)"/><text class="lg" x="527" y="913">SERCA</text>
<use href="#plb" transform="translate(658,905) scale(1.4)"/><text class="lg" x="680" y="913">PLB</text>
<use href="#cam" transform="translate(770,905) scale(1.3)"/><text class="lg" x="793" y="913">CaMKII</text>
<use href="#bar" transform="translate(920,905) scale(1.3)"/><text class="lg" x="940" y="913">β-AR</text>
<path d="M1048,912H1150" stroke="#9fc2ee" stroke-width="1"/><rect x="1048" y="909" width="102" height="6" fill="url(#act)"/><text class="lg" x="1158" y="920">Actin</text>
<path d="M1320,884V920a8,8 0 0 0 16,0V884" stroke="#df7ad9" stroke-width="3" fill="none"/><text class="lg" x="1360" y="914">T-Tubule</text>
<g fill="#e8a900"><circle cx="215" cy="960" r="4"/><circle cx="226" cy="964" r="4"/><circle cx="238" cy="960" r="4"/><circle cx="218" cy="973" r="4"/><circle cx="232" cy="975" r="4"/></g><text class="lg" x="250" y="975">Ca<tspan dy="-8" font-size="13">+2</tspan></text>
<circle cx="337" cy="970" r="7" fill="#ff6a10"/><text x="337" y="974" style="font-size:10px;fill:#fff;text-anchor:middle">P</text>
<circle cx="350" cy="957" r="7" fill="#9b5ad9"/><text x="350" y="961" style="font-size:10px;fill:#fff;text-anchor:middle">P</text>
<text class="lg" x="361" y="975">Phosphorylation</text>
<use href="#mito" transform="translate(570,967) rotate(40) scale(.9)"/><text class="lg" x="591" y="975">Mitochondria</text>
<use href="#pka" transform="translate(770,967) scale(1.5)"/><text class="lg" x="797" y="975">PKA</text>
<use href="#camp" transform="translate(918,967) scale(2)"/><text class="lg" x="940" y="975">cAMP</text>
<use href="#myo" transform="translate(1040,966) scale(1.1,1)"/><circle cx="1095" cy="966" r="7" fill="#f57c14"/><text class="lg" x="1162" y="975">Myosin</text>
<path d="M1290,958 Q1298,958 1300,962 H1345 Q1347,958 1355,958 Q1360,967 1355,976 Q1347,976 1345,972 H1300 Q1298,976 1290,976 Q1285,967 1290,958Z" fill="#f7d2f2" stroke="#df7ad9" stroke-width="2"/><text class="lg" x="1365" y="975">SR</text>
</svg>
</body></html>
